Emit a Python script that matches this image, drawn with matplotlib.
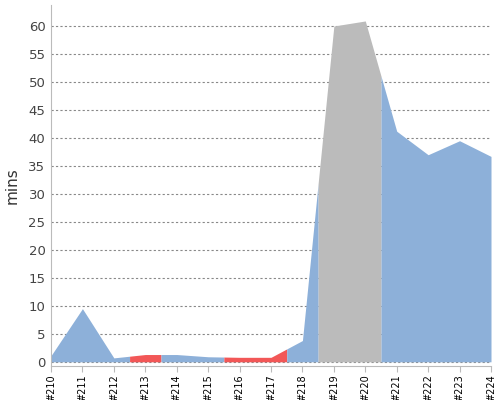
import matplotlib
matplotlib.use("Agg")
import matplotlib.pyplot as plt
import numpy as np

labels = ["#210", "#211", "#212", "#213", "#214", "#215", "#216", "#217",
          "#218", "#219", "#220", "#221", "#222", "#223", "#224"]
values = [1.1, 9.5, 0.7, 1.3, 1.3, 0.9, 0.8, 0.8, 3.8, 60.0, 60.9, 41.2, 37.0, 39.5, 36.7]
point_colors = ["blue", "blue", "blue", "red", "blue", "blue", "red", "red",
                "blue", "gray", "gray", "blue", "blue", "blue", "blue"]
palette = {"blue": "#8db0d9", "red": "#f25757", "gray": "#bbbbbb"}

fig = plt.figure(figsize=(5, 4), dpi=100)
ax = fig.add_axes([0.102, 0.085, 0.880, 0.9025])

x = np.arange(len(values), dtype=float)
y = np.array(values, dtype=float)
n = len(x)

# group contiguous runs of the same colour
runs = []
start = 0
for i in range(1, n + 1):
    if i == n or point_colors[i] != point_colors[start]:
        runs.append((start, i - 1, point_colors[start]))
        start = i
for a, b, c in runs:
    lo = max(x[a] - 0.5, 0)
    hi = min(x[b] + 0.5, n - 1)
    xs = [lo] + [xx for xx in x if lo < xx < hi] + [hi]
    ys = np.interp(xs, x, y)
    ax.fill_between(xs, 0, ys, color=palette[c], linewidth=0, zorder=2)

ax.set_xlim(0, n - 1)
ax.set_ylim(-0.75, 63.75)
ax.set_xticks(x)
ax.set_xticklabels(labels, rotation=90, fontsize=7, color="black")
ax.set_yticks(np.arange(0, 61, 5))
ax.tick_params(axis="y", length=0, labelsize=9.5, labelcolor="#444444", pad=4)
ax.tick_params(axis="x", length=4, color="#bbbbbb", pad=2)
ax.grid(axis="y", linestyle=(0, (2, 2)), color="#888888", linewidth=0.8, zorder=1)
ax.set_axisbelow(True)
for s in ["top", "right"]:
    ax.spines[s].set_visible(False)
for s in ["left", "bottom"]:
    ax.spines[s].set_color("#bbbbbb")
ax.set_ylabel("mins", fontsize=11, color="#333333", labelpad=6)

fig.savefig("out.png", dpi=100)
